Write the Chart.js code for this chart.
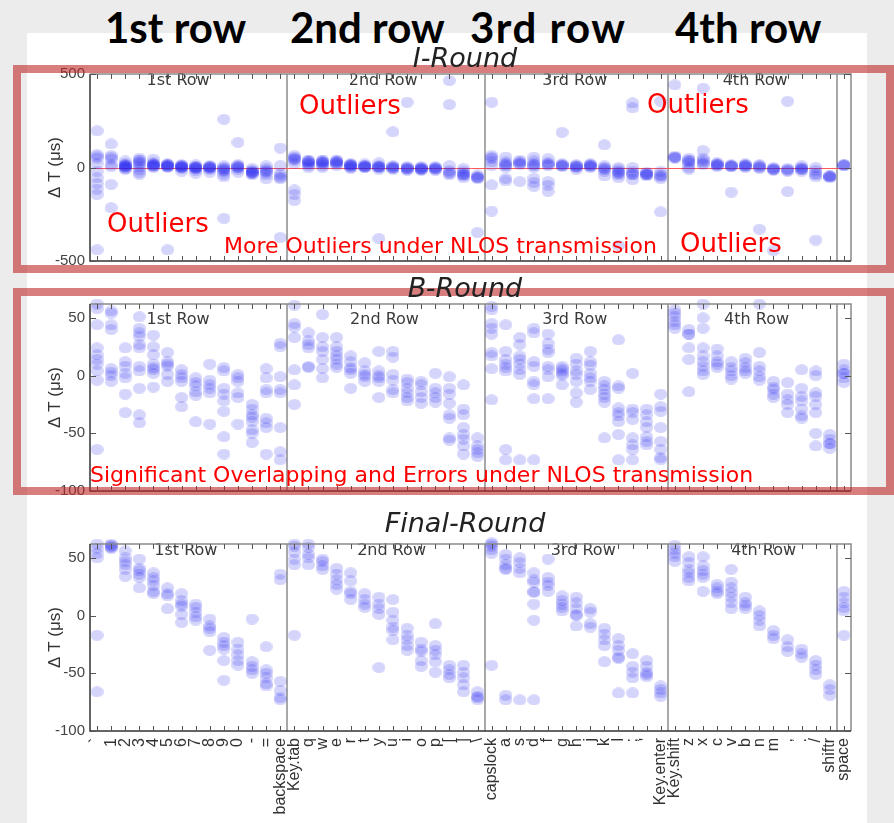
<!DOCTYPE html>
<html>
<head>
<meta charset="utf-8">
<script src="https://cdn.jsdelivr.net/npm/chart.js@4.4.0/dist/chart.umd.min.js"></script>
<style>
  html, body { margin: 0; padding: 0; }
  body { width: 894px; height: 823px; position: relative; overflow: hidden; background: #ececec; }
  #sheet { position: absolute; left: 27px; top: 33px; width: 840px; height: 790px; background: #fff; }
  .panel { position: absolute; left: 0; }
  .head { position: absolute; top: 6px; font: 700 42px Lato, sans-serif; line-height: 42px; color: #000; white-space: nowrap; }
  .ptitle { position: absolute; left: 265px; width: 400px; text-align: center; font: italic 27px "DejaVu Sans", sans-serif; line-height: 27px; color: #222; white-space: nowrap; }
  .box { position: absolute; left: 13px; width: 881px; box-sizing: border-box; border: 8px solid rgba(190, 40, 40, 0.6); }
  .note { position: absolute; color: #ff0000; font-family: "DejaVu Sans", sans-serif; white-space: nowrap; line-height: 1; }
</style>
</head>
<body>
<div id="sheet"></div>

<div class="head" style="left:105px">1st row</div>
<div class="head" style="left:290px">2nd row</div>
<div class="head" style="left:470px;letter-spacing:1.5px">3rd row</div>
<div class="head" style="left:675px">4th row</div>

<canvas id="iRoundChart" class="panel" style="top:60px" width="894" height="215"></canvas>
<canvas id="bRoundChart" class="panel" style="top:290px" width="894" height="215"></canvas>
<canvas id="finalRoundChart" class="panel" style="top:530px" width="894" height="293"></canvas>

<div class="box" style="top:65px;height:208px"></div>
<div class="box" style="top:288px;height:207px"></div>

<div class="ptitle" style="top:44px">I-Round</div>
<div class="ptitle" style="top:274px">B-Round</div>
<div class="ptitle" style="top:509px">Final-Round</div>

<div class="note" style="left:107px;top:210px;font-size:26px">Outliers</div>
<div class="note" style="left:299px;top:92px;font-size:26px">Outliers</div>
<div class="note" style="left:647px;top:91px;font-size:26px">Outliers</div>
<div class="note" style="left:680px;top:230px;font-size:26px">Outliers</div>
<div class="note" style="left:224px;top:235px;font-size:22px">More Outliers under NLOS transmission</div>
<div class="note" style="left:90px;top:464px;font-size:22px">Significant Overlapping and Errors under NLOS transmission</div>

<script>
// Keys along the x axis, grouped by keyboard row
const keyLabels = [
  '`', '1', '2', '3', '4', '5', '6', '7', '8', '9', '0', '-', '=', 'backspace',
  'Key.tab', 'q', 'w', 'e', 'r', 't', 'y', 'u', 'i', 'o', 'p', '[', ']', '\\',
  'capslock', 'a', 's', 'd', 'f', 'g', 'h', 'j', 'k', 'l', ';', "'", 'Key.enter',
  'Key.shift', 'z', 'x', 'c', 'v', 'b', 'n', 'm', ',', '.', '/', 'shiftr',
  'space'
];
const rowSizes = [14, 14, 13, 12, 1];
const rowNames = ['1st Row', '2nd Row', '3rd Row', '4th Row'];

// Y tick labels of each panel
const iRoundTicks = [500, 0, -500];
const bRoundTicks = [50, 0, -50, -100];
const finalRoundTicks = [50, 0, -50, -100];

// Measured ΔT (µs) samples for each key, I-Round
const iRound = [
  [196, 70, 60, 50, 20, -20, -55, -85, -115, -145, -440],
  [126, 65, 55, 45, 15, 5, -90, -215],
  [35, 20, 15, 10, 10, 5, 5, 0, -5, -10],
  [50, 40, 35, 25, 20, 5, -10, -25, -37],
  [45, 25, 20, 15, 15, 10, 10, 5, 0],
  [20, 15, 15, 10, 10, 5, 5, 0, -440],
  [15, 10, 10, 5, 5, 0, 0, -5, -20],
  [15, 5, 5, 0, 0, -5, -5, -15, -30],
  [10, 5, 5, 0, 0, -5, -10, -25],
  [258, 10, 0, -5, -10, -15, -20, -35, -50, -272],
  [135, 15, 10, 5, 0, 0, -10, -25],
  [-5, -15, -20, -25, -25, -30, -30, -40],
  [10, -5, -15, -20, -25, -40, -60],
  [104, 10, -30, -45, -55, -60, -374],
  [65, 55, 50, 45, 40, 20, -120, -145, -177],
  [40, 35, 30, 30, 20, 20, 10, 0],
  [40, 35, 30, 25, 25, 20, 10, 0],
  [40, 35, 30, 25, 25, 20, 10],
  [20, 15, 15, 10, 10, 5, 0, -5],
  [20, 10, 10, 5, 5, 0, 0],
  [25, 10, 5, 5, 0, 0, -10, -380],
  [191, 10, 5, 0, 0, -5, -10],
  [349, 5, 0, -5, -5, -10, -15],
  [5, 0, -5, -5, -10, -10, -15],
  [5, 0, -5, -5, -10, -15],
  [465, 337, 10, -15, -25, -30, -40],
  [-5, -20, -30, -35, -40, -45, -55],
  [-40, -50, -52, -55, -60, -347],
  [349, 65, 55, 47, 30, 10, -93, -233],
  [56, 30, 20, 15, 10, 0, -58, -72],
  [39, 30, 25, 20, 15, -75],
  [56, 35, 20, 15, 10, 0, -58, -80, -100],
  [47, 25, 20, 15, 10, -75, -95, -128],
  [188, 20, 15, 10, 10, 5],
  [15, 10, 5, 5, 0, -10],
  [20, 15, 10, 10, 5, 0],
  [121, 10, 0, -5, -10, -20, -45],
  [0, -10, -20, -25, -30, -40, -55, -417],
  [345, 319, 0, -20, -30, -35, -40, -65],
  [-25, -30, -35, -35, -40, -45],
  [354, -20, -35, -45, -50, -60, -237],
  [442, 61, 55, 55, 50],
  [50, 40, 35, 30, 20, 0, -10],
  [424, 91, 50, 40, 30, 20, 15],
  [25, 20, 15, 15, 10, 5],
  [15, 10, 10, 5, 5, -132],
  [20, 15, 10, 10, 5, 0],
  [15, 10, 5, 0, -5, -330],
  [0, -5, -10, -10, -15, -444],
  [354, -5, -10, -15, -20, -128],
  [10, 0, -5, -10, -10, -20],
  [0, -15, -30, -40, -50, -388],
  [-50, -50, -45, -45, -55],
  [15, 15, 10, 10]
];

// B-Round
const bRound = [
  [62, 58, 44, 24, 18, 14, 10, 4, -4, -64],
  [56, 54, 44, 40, 6, 3, 0, -5],
  [24, 12, 8, 2, -2, -16, -32],
  [51, 41, 37, 34, 27, 24, 8, 4, -11, -34, -41],
  [35, 25, 18, 10, 7, 5, 2, -10],
  [20, 12, 10, 8, 1, -5],
  [5, 1, -2, -5, -19, -27],
  [-2, -6, -9, -14, -17, -40],
  [10, -4, -8, -11, -15, -42],
  [7, 4, -11, -16, -22, -31, -53, -68],
  [1, -2, -5, -15, -19, -42],
  [-25, -29, -34, -36, -40, -47, -50, -58],
  [6, -2, -12, -15, -37, -41, -45, -68],
  [28, 25, -1, -12, -15, -45, -66, -73],
  [61, 45, 42, 33, 5, -8, -25],
  [37, 30, 27, 24, 8, 7],
  [53, 33, 25, 21, 14, 6, -2],
  [33, 25, 21, 17, 14, 10, 7],
  [17, 12, 7, 5, 2, -11],
  [11, 4, 1, -1, -5],
  [21, 4, 0, -2, -5, -19],
  [21, 16, 1, -4, -12, -15],
  [-3, -6, -11, -15, -19, -22],
  [-5, -8, -14, -19, -24],
  [2, -11, -15, -19, -23],
  [-1, -11, -16, -24, -34, -37, -54, -56],
  [-8, -29, -34, -45, -51, -55, -61, -68],
  [-54, -61, -64, -67, -70],
  [60, 57, 45, 41, 36, 20, 17, 6, -21],
  [44, 21, 14, 10, 7, 4, -64, -73],
  [33, 27, 17, 14, 10, 5, 1, -73],
  [41, 37, 12, 8, -5, -8, -20, -73],
  [36, 28, 23, 20, 8, 5, -1, -20],
  [8, 6, 4, 2, 0, -8],
  [15, 10, 4, 1, -5, -15, -23],
  [21, 12, 9, 2, -2, -5, -12],
  [-5, -9, -12, -16, -19, -23, -54],
  [31, -9, -11, -28, -32, -35, -40, -51, -73],
  [2, -29, -32, -38, -54, -60, -64, -73],
  [-29, -34, -40, -45, -53, -57, -60],
  [-16, -27, -31, -45, -57, -64, -71, -73],
  [57, 54, 51, 47, 44, 41],
  [40, 36, 36, 24, 14, -14],
  [62, 50, 41, 24, 17, 12, 8, 4, 1],
  [23, 17, 12, 10, 7],
  [12, 7, 4, 0, -3],
  [15, 11, 7, 4, 2],
  [62, 20, 8, 4, -1, -4],
  [-5, -10, -12, -16, -19],
  [-6, -16, -21, -25, -32],
  [5, -11, -18, -22, -29, -35, -37],
  [4, 0, -15, -18, -25, -32, -50, -61],
  [-51, -55, -59, -59, -63],
  [10, 5, 2, 2, -2, -6]
];

// Final-Round
const finalRound = [
  [62, 58, 54, 50, -17, -66],
  [62, 61, 60, 59, 58],
  [56, 50, 47, 44, 40, 34],
  [49, 41, 39, 36, 33, 24],
  [37, 33, 30, 26, 21, 19],
  [24, 19, 17, 6],
  [19, 13, 10, 8, 1, -6],
  [10, 7, 3, -1, -4],
  [-3, -9, -11, -14, -30],
  [-19, -23, -26, -29, -39, -56],
  [-23, -29, -34, -39, -43],
  [-3, -40, -44, -47, -50],
  [-27, -47, -50, -54, -59, -61],
  [36, 31, -57, -65, -71, -73],
  [62, 60, 55, 49, 44, -17],
  [62, 59, 53, 50, 44],
  [49, 47, 43, 40],
  [41, 36, 31, 27, 23],
  [37, 30, 21, 19, 14],
  [19, 14, 10, 7],
  [16, 10, 6, 1, -45],
  [14, 3, -4, -10, -13, -21],
  [-11, -17, -21, -26, -30],
  [-23, -29, -31, -39, -44],
  [-7, -26, -30, -34, -40, -49],
  [-43, -47, -51, -54],
  [-43, -49, -54, -60, -66],
  [-66, -70, -71, -73],
  [63, 62, 60, 57, 54, -43],
  [53, 49, 44, 41, 40, -69, -73],
  [50, 46, 41, 37, -73],
  [37, 31, 29, 21, 20, 10, -4, -73],
  [49, 33, 29, 26, 21],
  [17, 13, 10, 7, 4],
  [16, 11, 6, 1, 0, -9],
  [6, 3, -7, -10],
  [-11, -16, -21, -26, -40],
  [-20, -26, -30, -36, -37, -67],
  [-33, -44, -49, -54, -67],
  [-39, -44, -49, -51, -53],
  [-61, -64, -67, -70],
  [61, 57, 54, 51, 47],
  [51, 46, 40, 37, 33, 30],
  [51, 43, 39, 36, 33, 21],
  [27, 24, 21, 19],
  [40, 29, 24, 20, 16, 11, 6],
  [16, 11, 9, 6],
  [4, 0, -4, -9],
  [-13, -17, -20],
  [-21, -27, -31],
  [-29, -33, -36],
  [-39, -43, -47, -51],
  [-60, -64, -69],
  [21, 16, 11, 7, 4, -17]
];

// Boundaries between keyboard rows, in key-index units
const separators = [];
rowSizes.slice(0, -1).reduce((acc, n) => { acc += n; separators.push(acc - 0.5); return acc; }, 0);

function toPoints(samples) {
  const pts = [];
  samples.forEach((list, k) => list.forEach(v => pts.push({ x: k, y: v })));
  return pts;
}

// Translucent oval marker so that repeated samples build up darker spots
function makeDot() {
  const c = document.createElement('canvas');
  c.width = 13; c.height = 11;
  const g = c.getContext('2d');
  g.fillStyle = 'rgba(30, 30, 240, 0.19)';
  g.beginPath();
  g.ellipse(6.5, 5.5, 6.5, 5.5, 0, 0, Math.PI * 2);
  g.fill();
  return c;
}
const dot = makeDot();

const framePlugin = {
  id: 'keyboardFrame',
  beforeDatasetsDraw(chart, args, o) {
    const { ctx, chartArea: a, scales: { x, y } } = chart;
    ctx.save();
    ctx.strokeStyle = '#a8a8a8';
    ctx.lineWidth = 2;
    separators.forEach(s => {
      const px = Math.round(x.getPixelForValue(s));
      ctx.beginPath(); ctx.moveTo(px, a.top); ctx.lineTo(px, a.bottom); ctx.stroke();
    });
    if (o.zeroLine) {
      const py = Math.round(y.getPixelForValue(0)) + 0.5;
      ctx.strokeStyle = '#ff5a5a';
      ctx.lineWidth = 1;
      ctx.beginPath(); ctx.moveTo(a.left, py); ctx.lineTo(a.right, py); ctx.stroke();
    }
    ctx.fillStyle = '#3a3a3a';
    ctx.font = '16px "DejaVu Sans", sans-serif';
    ctx.textAlign = 'center';
    ctx.textBaseline = 'middle';
    rowNames.forEach((name, i) => {
      ctx.fillText(name, x.getPixelForValue(o.rowNameAt[i]), a.top + o.rowNameDy);
    });
    ctx.restore();
  },
  afterDatasetsDraw(chart, args, o) {
    const { ctx, chartArea: a, scales: { x, y } } = chart;
    ctx.save();
    // frame
    ctx.lineWidth = 1.5;
    ctx.strokeStyle = '#8a8a8a';
    ctx.beginPath();
    ctx.moveTo(a.left, a.top); ctx.lineTo(a.right, a.top); ctx.lineTo(a.right, a.bottom);
    ctx.stroke();
    ctx.strokeStyle = '#333';
    ctx.beginPath();
    ctx.moveTo(a.left, a.top); ctx.lineTo(a.left, a.bottom); ctx.lineTo(a.right, a.bottom);
    ctx.stroke();
    // inward tick marks
    ctx.lineWidth = 1;
    ctx.strokeStyle = '#555';
    ctx.beginPath();
    keyLabels.forEach((_, i) => {
      const px = Math.round(x.getPixelForValue(i)) + 0.5;
      ctx.moveTo(px, a.top); ctx.lineTo(px, a.top + 5);
      ctx.moveTo(px, a.bottom); ctx.lineTo(px, a.bottom - 5);
    });
    o.ticks.forEach(v => {
      const py = Math.round(y.getPixelForValue(v)) + 0.5;
      ctx.moveTo(a.left, py); ctx.lineTo(a.left + 6, py);
      ctx.moveTo(a.right, py); ctx.lineTo(a.right - 6, py);
    });
    ctx.stroke();
    ctx.restore();
  }
};

const labelFont = { family: '"Liberation Sans", Arial, sans-serif', size: 15 };
const keyFont = { family: '"Liberation Sans", Arial, sans-serif', size: 16 };

function buildPanel(id, samples, cfg) {
  new Chart(document.getElementById(id), {
    type: 'scatter',
    data: {
      datasets: [{
        data: toPoints(samples),
        pointStyle: dot,
        pointRadius: 6,
        backgroundColor: 'rgba(0,0,0,0)',
        borderWidth: 0,
        clip: false
      }]
    },
    options: {
      responsive: false,
      animation: false,
      events: [],
      layout: { padding: cfg.padding },
      plugins: {
        legend: { display: false },
        tooltip: { enabled: false },
        keyboardFrame: { ticks: cfg.ticks, zeroLine: cfg.zeroLine, rowNameAt: cfg.rowNameAt, rowNameDy: cfg.rowNameDy }
      },
      scales: {
        x: {
          type: 'linear',
          min: -0.5,
          max: keyLabels.length - 0.5,
          display: cfg.showKeys,
          grid: { display: false, drawTicks: false },
          border: { display: false },
          afterBuildTicks: s => { s.ticks = keyLabels.map((_, i) => ({ value: i })); },
          afterFit: s => { if (cfg.showKeys) s.height = 92; },
          ticks: {
            autoSkip: false,
            minRotation: 90,
            maxRotation: 90,
            padding: 7,
            color: '#333',
            font: keyFont,
            callback: v => keyLabels[v]
          }
        },
        y: {
          min: cfg.min,
          max: cfg.max,
          grid: { display: false, drawTicks: false },
          border: { display: false },
          afterBuildTicks: s => { s.ticks = cfg.ticks.map(v => ({ value: v })); },
          afterFit: s => { s.width = 90; },
          ticks: { padding: 5, color: '#444', font: labelFont, callback: v => String(v) },
          title: {
            display: true,
            text: 'Δ T (μs)',
            color: '#333',
            font: { family: '"Liberation Sans", Arial, sans-serif', size: 17 },
            padding: { top: 45, bottom: 0 }
          }
        }
      }
    },
    plugins: [framePlugin]
  });
}

buildPanel('iRoundChart', iRound, {
  min: -500, max: 500, ticks: iRoundTicks, zeroLine: true, showKeys: false,
  padding: { left: 0, right: 43, top: 14, bottom: 12 },
  rowNameAt: [5.75, 20.3, 33.9, 46.7], rowNameDy: 7
});
buildPanel('bRoundChart', bRound, {
  min: -100, max: 62, ticks: bRoundTicks, zeroLine: false, showKeys: false,
  padding: { left: 0, right: 43, top: 13, bottom: 13 },
  rowNameAt: [5.75, 20.4, 33.9, 46.8], rowNameDy: 16
});
buildPanel('finalRoundChart', finalRound, {
  min: -100, max: 62, ticks: finalRoundTicks, zeroLine: false, showKeys: true,
  padding: { left: 0, right: 43, top: 12, bottom: 0 },
  rowNameAt: [6.3, 20.9, 34.5, 47.3], rowNameDy: 7
});
</script>
</body>
</html>
